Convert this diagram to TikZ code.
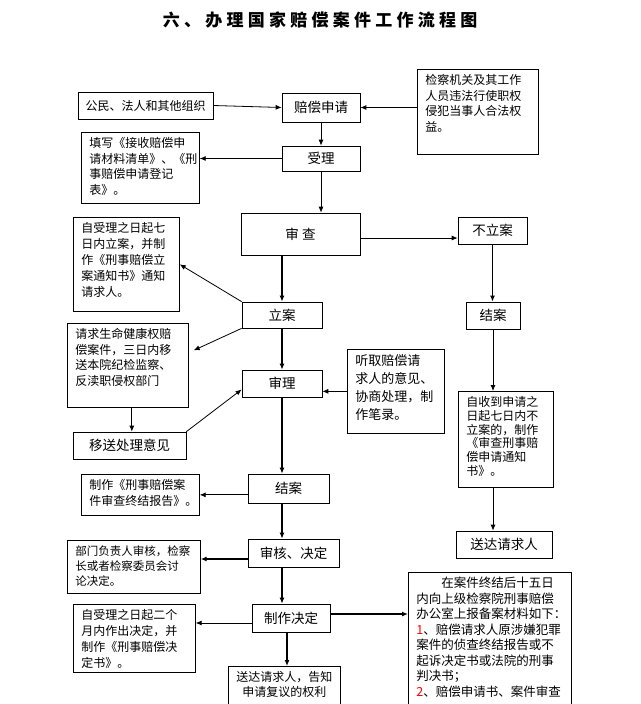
\documentclass[tikz,border=0pt]{standalone}
\usepackage{fontspec}
\setmainfont{Noto Sans CJK SC}
\usepackage{tikz}
\usetikzlibrary{calc,arrows.meta}
\newcommand{\memotext}[3]{\parbox[c][#2pt][t]{\dimexpr#1pt-16pt\relax}{\vspace{5pt}#3}}
\begin{document}
\begin{tikzpicture}[x=1pt,y=-1pt,
  stage/.style={draw,line width=0.7pt,inner sep=0pt,font=\fontsize{13.5pt}{16pt}\selectfont},
  memo/.style={draw,line width=0.7pt,anchor=north west,inner xsep=8pt,inner ysep=0pt,font=\fontsize{12pt}{15.5pt}\selectfont},
  arr/.style={->,>={Latex[length=6pt,width=5pt]},line width=0.8pt},
  barr/.style={->,>={Latex[length=6pt,width=5pt]},line width=1.4pt}]
\useasboundingbox (0,0) rectangle (640,704);
\node(title)at(320,20){\fontsize{17pt}{20pt}\selectfont\bfseries\addfontfeature{LetterSpace=25}六、办理国家赔偿案件工作流程图};
% main line
\node[stage,minimum width=78pt,minimum height=29pt](shenqing)at(321,107.5){赔偿申请};
\node[stage,minimum width=78pt,minimum height=25pt](shouli)at(321,158.5){受理};
\node[stage,minimum width=119pt,minimum height=42pt](shencha)at(300.5,234){审\ 查};
\node[stage,minimum width=69pt,minimum height=27pt](buli)at(492.5,230.5){不立案};
\node[stage,minimum width=80pt,minimum height=26pt](lian)at(282,315){立案};
\node[stage,minimum width=54pt,minimum height=27pt](jieanr)at(493,315.5){结案};
\node[stage,minimum width=80pt,minimum height=27pt](shenli)at(282,383.5){审理};
\node[stage,minimum width=81pt,minimum height=29pt](jiean)at(288.5,488.5){结案};
\node[stage,minimum width=91pt,minimum height=28pt](shenhe)at(293.5,553){审核、决定};
\node[stage,minimum width=78pt,minimum height=28pt](zuochu)at(291,618){制作决定};
\node[stage,minimum width=96pt,minimum height=27pt](songdar)at(504,544.5){送达请求人};
\node[stage,minimum width=113pt,minimum height=27pt](yisong)at(129.5,445.5){移送处理意见};
\node[stage,minimum width=135pt,minimum height=27pt,font=\fontsize{12pt}{15pt}\selectfont](gongmin)at(145.5,105.5){公民、法人和其他组织};
% side notes
\node[memo](jiancha)at(417,69){\memotext{121}{85}{检察机关及其工作\\人员违法行使职权\\侵犯当事人合法权\\益。}};
\node[memo](tianxie)at(81,132){\memotext{118}{71}{填写《接收赔偿申\\请材料清单》、《刑\\事赔偿申请登记\\表》。}};
\node[memo](qiri)at(73,217){\memotext{106}{94}{\fontsize{12pt}{16pt}\selectfont 自受理之日起七\\日内立案，并制\\作《刑事赔偿立\\案通知书》通知\\请求人。}};
\node[memo](shengming)at(67,323){\memotext{121}{84}{请求生命健康权赔\\偿案件，三日内移\\送本院纪检监察、\\反渎职侵权部门}};
\node[memo](tingqu)at(347,349){\memotext{97}{84}{\fontsize{13pt}{18pt}\selectfont 听取赔偿请\\求人的意见、\\协商处理，制\\作笔录。}};
\node[memo](zishou)at(458,391){\memotext{95}{96}{\fontsize{12pt}{13.8pt}\selectfont 自收到申请之\\日起七日内不\\立案的，制作\\《审查刑事赔\\偿申请通知\\书》。}};
\node[memo](baogao)at(81,474){\memotext{118}{41}{制作《刑事赔偿案\\件审查终结报告》。}};
\node[memo](bumen)at(67,540){\memotext{133}{53}{\fontsize{11.5pt}{15pt}\selectfont 部门负责人审核，检察\\长或者检察委员会讨\\论决定。}};
\node[memo](erge)at(73,604){\memotext{122}{68}{\fontsize{12pt}{16pt}\selectfont 自受理之日起二个\\月内作出决定，并\\制作《刑事赔偿决\\定书》。}};
\node[memo](songdab)at(228,666){\memotext{112}{60}{\centering 送达请求人，告知\\申请复议的权利}};
\node[memo](beian)at(408,572){\memotext{163}{150}{\fontsize{12.5pt}{15.5pt}\selectfont \hspace*{2em}在案件终结后十五日\\内向上级检察院刑事赔偿\\办公室上报备案材料如下：\\\textcolor{red}{1}、赔偿请求人原涉嫌犯罪\\案件的侦查终结报告或不\\起诉决定书或法院的刑事\\判决书；\\\textcolor{red}{2}、赔偿申请书、案件审查}};
% connectors
\draw[arr](gongmin.east)--(shenqing.west);
\draw[arr](jiancha.west|-shenqing.east)--(shenqing.east);
\draw[arr](shenqing.south)--(shouli.north);
\draw[arr](shouli.west)--(shouli.west-|tianxie.east);
\draw[arr](shouli.south)--(shouli.south|-shencha.north);
\draw[arr]([yshift=-4pt]shencha.east)--([yshift=-4pt]shencha.east-|buli.west);
\draw[barr](lian.north|-shencha.south)--(lian.north);
\draw[arr](lian.north west)--(qiri.east);
\draw[arr](lian.south west)--([shift={(5,-15)}]shengming.east);
\draw[barr](lian.south)--(shenli.north);
\draw[arr]([xshift=4pt]shengming.south)--([xshift=4pt]shengming.south|-yisong.north);
\draw[arr](yisong.north east)--([yshift=-6pt]shenli.west);
\draw[arr](tingqu.west)--(tingqu.west-|shenli.east);
\draw[barr](shenli.south)--(shenli.south|-jiean.north);
\draw[barr](buli.south)--(buli.south|-jieanr.north);
\draw[arr](jieanr.south)--(jieanr.south|-zishou.north);
\draw[arr](jieanr.south|-zishou.south)--(jieanr.south|-songdar.north);
\draw[arr](baogao.east-|jiean.west)--(baogao.east);
\draw[barr](shenli.south|-jiean.south)--(shenli.south|-shenhe.north);
\draw[barr]([yshift=-6pt]shenhe.west)--([yshift=-6pt]shenhe.west-|bumen.east);
\draw[barr](shenli.south|-shenhe.south)--(shenli.south|-zuochu.north);
\draw[arr]([yshift=-5pt]zuochu.west)--([yshift=-5pt]zuochu.west-|erge.east);
\draw[barr]([xshift=-4pt]zuochu.south)--([xshift=-4pt]zuochu.south|-songdab.north);
\draw[barr]([yshift=4pt]zuochu.east)--([yshift=4pt]zuochu.east-|beian.west);
\end{tikzpicture}
\end{document}
